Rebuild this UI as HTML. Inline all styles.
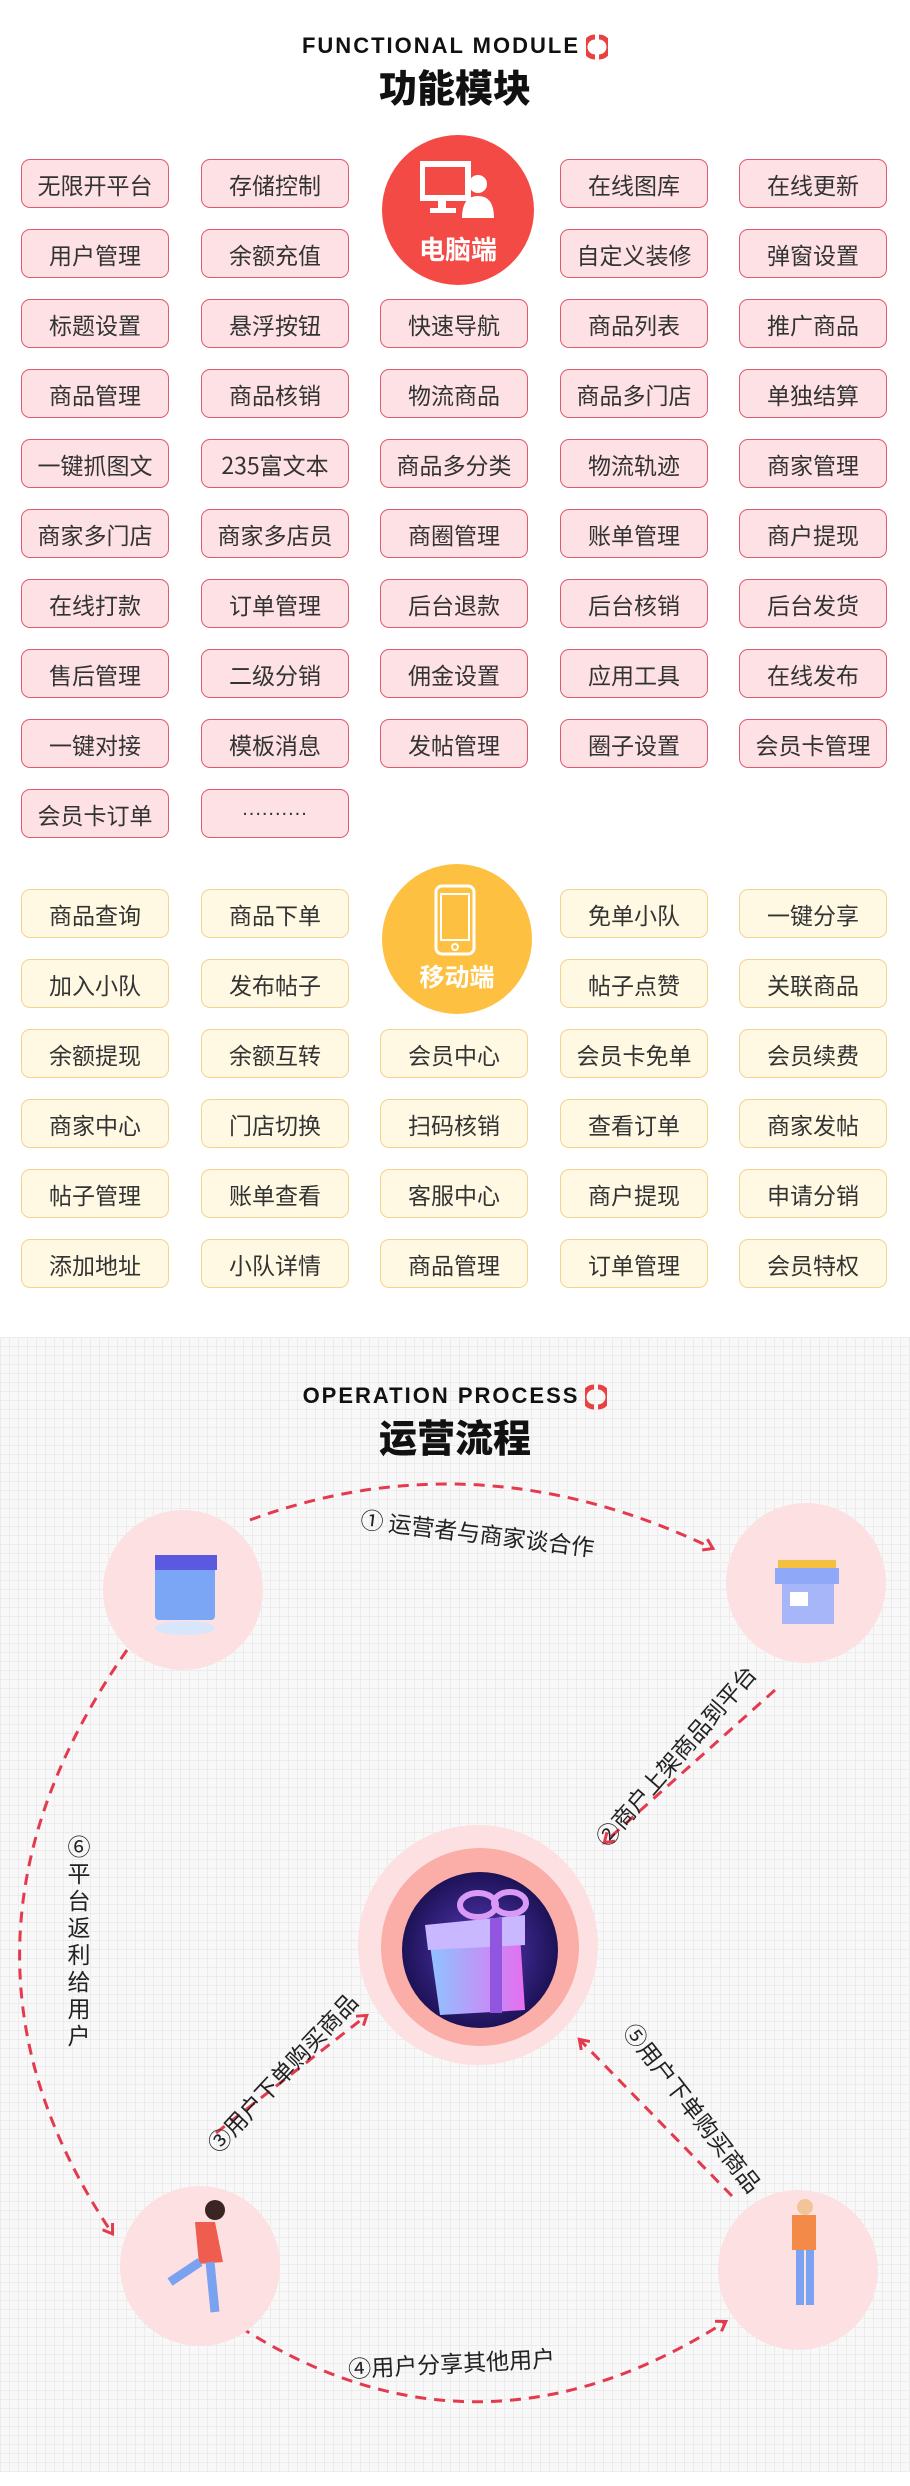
<!DOCTYPE html>
<html><head><meta charset="utf-8"><style>
*{margin:0;padding:0;box-sizing:border-box}
body{width:910px;height:2486px;position:relative;background:#fff;font-family:"Liberation Sans","Noto Sans CJK SC",sans-serif;overflow:hidden}
.b{position:absolute;width:148px;height:49px;border-radius:9px;display:flex;align-items:center;justify-content:center;font-size:23px;color:#333;font-family:"Noto Sans CJK SC",sans-serif;overflow:hidden}
.p{background:#fde1e4;border:1.5px solid #df5a6c}
.m{background:#fff8e2;border:1.5px solid #f3d48e}
.en{position:absolute;left:0;width:910px;text-align:center;font-weight:bold;font-size:22px;letter-spacing:2px;color:#111}
.cn{position:absolute;left:0;width:910px;text-align:center;font-weight:900;font-size:38px;color:#111;font-family:"Noto Sans CJK SC",sans-serif}
.grid{position:absolute;left:0;top:1337px;width:910px;height:1135px;background-color:#f8f8f8;background-image:linear-gradient(#ececec 1px,transparent 1px),linear-gradient(90deg,#ececec 1px,transparent 1px);background-size:9px 9px}
.lab{position:absolute;font-size:23px;color:#222;font-family:"Noto Sans CJK SC",sans-serif;white-space:nowrap}
.ic{display:inline-block;vertical-align:middle;margin-left:6px}
</style></head><body>
<div class="en" style="top:33px">FUNCTIONAL MODULE<svg class="ic" width="22" height="26" viewBox="0 0 22 26"><path d="M9 3 A10 10 0 0 0 9 23" fill="none" stroke="#e8413f" stroke-width="5"/><path d="M13 3 A10 10 0 0 1 13 23" fill="none" stroke="#e8413f" stroke-width="5"/></svg></div>
<div class="cn" style="top:58px">功能模块</div>

<div style="position:absolute;left:382px;top:135px;width:152px;height:150px;border-radius:50%;background:#f44a46"></div>
<svg style="position:absolute;left:420px;top:160px" width="76" height="60" viewBox="0 0 76 60"><rect x="2" y="4" width="46" height="34" fill="none" stroke="#fff" stroke-width="6"/><rect x="18" y="40" width="8" height="10" fill="#fff"/><rect x="10" y="48" width="26" height="5" fill="#fff"/><circle cx="58" cy="24" r="9" fill="#fff"/><path d="M42 58 Q42 36 58 36 Q74 36 74 58Z" fill="#fff"/></svg>
<div style="position:absolute;left:382px;top:230px;width:152px;text-align:center;color:#fff;font-size:26px;font-weight:bold;font-family:'Noto Sans CJK SC',sans-serif">电脑端</div>

<div class="b p" style="left:21px;top:159px">无限开平台</div><div class="b p" style="left:201px;top:159px">存储控制</div><div class="b p" style="left:560px;top:159px">在线图库</div><div class="b p" style="left:739px;top:159px">在线更新</div>
<div class="b p" style="left:21px;top:229px">用户管理</div><div class="b p" style="left:201px;top:229px">余额充值</div><div class="b p" style="left:560px;top:229px">自定义装修</div><div class="b p" style="left:739px;top:229px">弹窗设置</div>
<div class="b p" style="left:21px;top:299px">标题设置</div><div class="b p" style="left:201px;top:299px">悬浮按钮</div><div class="b p" style="left:380px;top:299px">快速导航</div><div class="b p" style="left:560px;top:299px">商品列表</div><div class="b p" style="left:739px;top:299px">推广商品</div>
<div class="b p" style="left:21px;top:369px">商品管理</div><div class="b p" style="left:201px;top:369px">商品核销</div><div class="b p" style="left:380px;top:369px">物流商品</div><div class="b p" style="left:560px;top:369px">商品多门店</div><div class="b p" style="left:739px;top:369px">单独结算</div>
<div class="b p" style="left:21px;top:439px">一键抓图文</div><div class="b p" style="left:201px;top:439px">235富文本</div><div class="b p" style="left:380px;top:439px">商品多分类</div><div class="b p" style="left:560px;top:439px">物流轨迹</div><div class="b p" style="left:739px;top:439px">商家管理</div>
<div class="b p" style="left:21px;top:509px">商家多门店</div><div class="b p" style="left:201px;top:509px">商家多店员</div><div class="b p" style="left:380px;top:509px">商圈管理</div><div class="b p" style="left:560px;top:509px">账单管理</div><div class="b p" style="left:739px;top:509px">商户提现</div>
<div class="b p" style="left:21px;top:579px">在线打款</div><div class="b p" style="left:201px;top:579px">订单管理</div><div class="b p" style="left:380px;top:579px">后台退款</div><div class="b p" style="left:560px;top:579px">后台核销</div><div class="b p" style="left:739px;top:579px">后台发货</div>
<div class="b p" style="left:21px;top:649px">售后管理</div><div class="b p" style="left:201px;top:649px">二级分销</div><div class="b p" style="left:380px;top:649px">佣金设置</div><div class="b p" style="left:560px;top:649px">应用工具</div><div class="b p" style="left:739px;top:649px">在线发布</div>
<div class="b p" style="left:21px;top:719px">一键对接</div><div class="b p" style="left:201px;top:719px">模板消息</div><div class="b p" style="left:380px;top:719px">发帖管理</div><div class="b p" style="left:560px;top:719px">圈子设置</div><div class="b p" style="left:739px;top:719px">会员卡管理</div>
<div class="b p" style="left:21px;top:789px">会员卡订单</div><div class="b p" style="left:201px;top:789px;font-family:'Liberation Sans',sans-serif;font-size:20px;letter-spacing:1px;padding-bottom:8px">..........</div>

<div style="position:absolute;left:382px;top:864px;width:150px;height:150px;border-radius:50%;background:#fdc040"></div>
<svg style="position:absolute;left:434px;top:884px" width="42" height="72" viewBox="0 0 42 72"><rect x="2" y="2" width="38" height="68" rx="6" fill="none" stroke="#fff" stroke-width="3"/><rect x="7" y="10" width="28" height="46" fill="none" stroke="#fff" stroke-width="2"/><circle cx="21" cy="63" r="3" fill="none" stroke="#fff" stroke-width="2"/></svg>
<div style="position:absolute;left:382px;top:958px;width:150px;text-align:center;color:#fff;font-size:25px;font-weight:bold;font-family:'Noto Sans CJK SC',sans-serif">移动端</div>

<div class="b m" style="left:21px;top:889px">商品查询</div><div class="b m" style="left:201px;top:889px">商品下单</div><div class="b m" style="left:560px;top:889px">免单小队</div><div class="b m" style="left:739px;top:889px">一键分享</div>
<div class="b m" style="left:21px;top:959px">加入小队</div><div class="b m" style="left:201px;top:959px">发布帖子</div><div class="b m" style="left:560px;top:959px">帖子点赞</div><div class="b m" style="left:739px;top:959px">关联商品</div>
<div class="b m" style="left:21px;top:1029px">余额提现</div><div class="b m" style="left:201px;top:1029px">余额互转</div><div class="b m" style="left:380px;top:1029px">会员中心</div><div class="b m" style="left:560px;top:1029px">会员卡免单</div><div class="b m" style="left:739px;top:1029px">会员续费</div>
<div class="b m" style="left:21px;top:1099px">商家中心</div><div class="b m" style="left:201px;top:1099px">门店切换</div><div class="b m" style="left:380px;top:1099px">扫码核销</div><div class="b m" style="left:560px;top:1099px">查看订单</div><div class="b m" style="left:739px;top:1099px">商家发帖</div>
<div class="b m" style="left:21px;top:1169px">帖子管理</div><div class="b m" style="left:201px;top:1169px">账单查看</div><div class="b m" style="left:380px;top:1169px">客服中心</div><div class="b m" style="left:560px;top:1169px">商户提现</div><div class="b m" style="left:739px;top:1169px">申请分销</div>
<div class="b m" style="left:21px;top:1239px">添加地址</div><div class="b m" style="left:201px;top:1239px">小队详情</div><div class="b m" style="left:380px;top:1239px">商品管理</div><div class="b m" style="left:560px;top:1239px">订单管理</div><div class="b m" style="left:739px;top:1239px">会员特权</div>

<div class="grid"></div>
<div class="en" style="top:1383px">OPERATION PROCESS<svg class="ic" width="22" height="26" viewBox="0 0 22 26"><path d="M9 3 A10 10 0 0 0 9 23" fill="none" stroke="#e8413f" stroke-width="5"/><path d="M13 3 A10 10 0 0 1 13 23" fill="none" stroke="#e8413f" stroke-width="5"/></svg></div>
<div class="cn" style="top:1408px">运营流程</div>

<svg style="position:absolute;left:0;top:0" width="910" height="2486">
<defs><marker id="ar" markerWidth="14" markerHeight="14" refX="10" refY="7" orient="auto" markerUnits="userSpaceOnUse"><path d="M2 1 L11 7 L2 13" fill="none" stroke="#e43a4d" stroke-width="3"/></marker></defs>
<g fill="none" stroke="#e43a4d" stroke-width="3" stroke-dasharray="11 8">
<path d="M250 1520 Q478 1436 712 1548" marker-end="url(#ar)"/>
<path d="M775 1690 L605 1842" marker-end="url(#ar)"/>
<path d="M127 1650 Q -80 1947 112 2233" marker-end="url(#ar)"/>
<path d="M216 2133 L366 2016" marker-end="url(#ar)"/>
<path d="M732 2196 L580 2040" marker-end="url(#ar)"/>
<path d="M240 2327 Q478 2479 725 2322" marker-end="url(#ar)"/>
</g>
<circle cx="183" cy="1590" r="80" fill="#fde0e1"/>
<circle cx="806" cy="1583" r="80" fill="#fde0e1"/>
<circle cx="200" cy="2266" r="80" fill="#fde0e1"/>
<circle cx="798" cy="2270" r="80" fill="#fde0e1"/>
<circle cx="478" cy="1945" r="120" fill="#fde1e2"/>
<circle cx="480" cy="1947" r="99" fill="#fbaea8"/>
<defs><radialGradient id="g1" cx="50%" cy="50%" r="50%"><stop offset="0" stop-color="#5a3bc0"/><stop offset="1" stop-color="#1d1256"/></radialGradient>
<linearGradient id="g2" x1="0" x2="1"><stop offset="0" stop-color="#8fc3ff"/><stop offset="1" stop-color="#e66ef0"/></linearGradient></defs>
<circle cx="480" cy="1950" r="78" fill="url(#g1)"/>
<path d="M430 1945 L520 1935 L525 2010 L440 2015Z" fill="url(#g2)"/>
<path d="M425 1925 L525 1915 L525 1945 L428 1950Z" fill="#c9b8ff"/>
<rect x="490" y="1918" width="12" height="95" fill="#9056e0"/>
<ellipse cx="478" cy="1905" rx="18" ry="12" fill="none" stroke="#d89af5" stroke-width="6"/>
<ellipse cx="510" cy="1903" rx="16" ry="11" fill="none" stroke="#d89af5" stroke-width="6"/>
<rect x="155" y="1555" width="60" height="65" rx="4" fill="#7aa6f5"/>
<path d="M155 1555 h62 v15 h-62z" fill="#5a5ae0"/>
<ellipse cx="185" cy="1628" rx="30" ry="7" fill="#d8e6fb"/>
<path d="M778 1560 h58 v8 h-58z" fill="#f5c040"/>
<path d="M775 1568 h64 v16 h-64z" fill="#8fa8f8"/>
<rect x="782" y="1584" width="52" height="40" fill="#a6b6f8"/>
<rect x="790" y="1592" width="18" height="14" fill="#fff"/>
<circle cx="215" cy="2210" r="10" fill="#3a2424"/>
<path d="M195 2222 l20 0 l8 40 l-24 2z" fill="#ee5d4d"/>
<path d="M200 2262 l-30 20 M210 2262 l5 50" stroke="#7ba2f0" stroke-width="9"/>
<circle cx="805" cy="2207" r="8" fill="#f2c49a"/>
<path d="M792 2215 h24 v35 h-24z" fill="#f48a48"/>
<path d="M800 2250 l0 55 M810 2250 l0 55" stroke="#7ba2f0" stroke-width="8"/>
</svg>

<div class="lab" style="left:360px;top:1515px;transform:rotate(7deg)">① 运营者与商家谈合作</div>
<div class="lab" style="left:560px;top:1738px;transform:rotate(-49deg)">②商户上架商品到平台</div>
<div class="lab" style="left:178px;top:2055px;transform:rotate(-47deg)">③用户下单购买商品</div>
<div class="lab" style="left:590px;top:2090px;transform:rotate(52deg)">⑤用户下单购买商品</div>
<div class="lab" style="left:348px;top:2345px;transform:rotate(-3deg)">④用户分享其他用户</div>
<div class="lab" style="left:66px;top:1832px;width:26px;white-space:normal;line-height:27px;text-align:center">⑥平台返利给用户</div>
</body></html>
